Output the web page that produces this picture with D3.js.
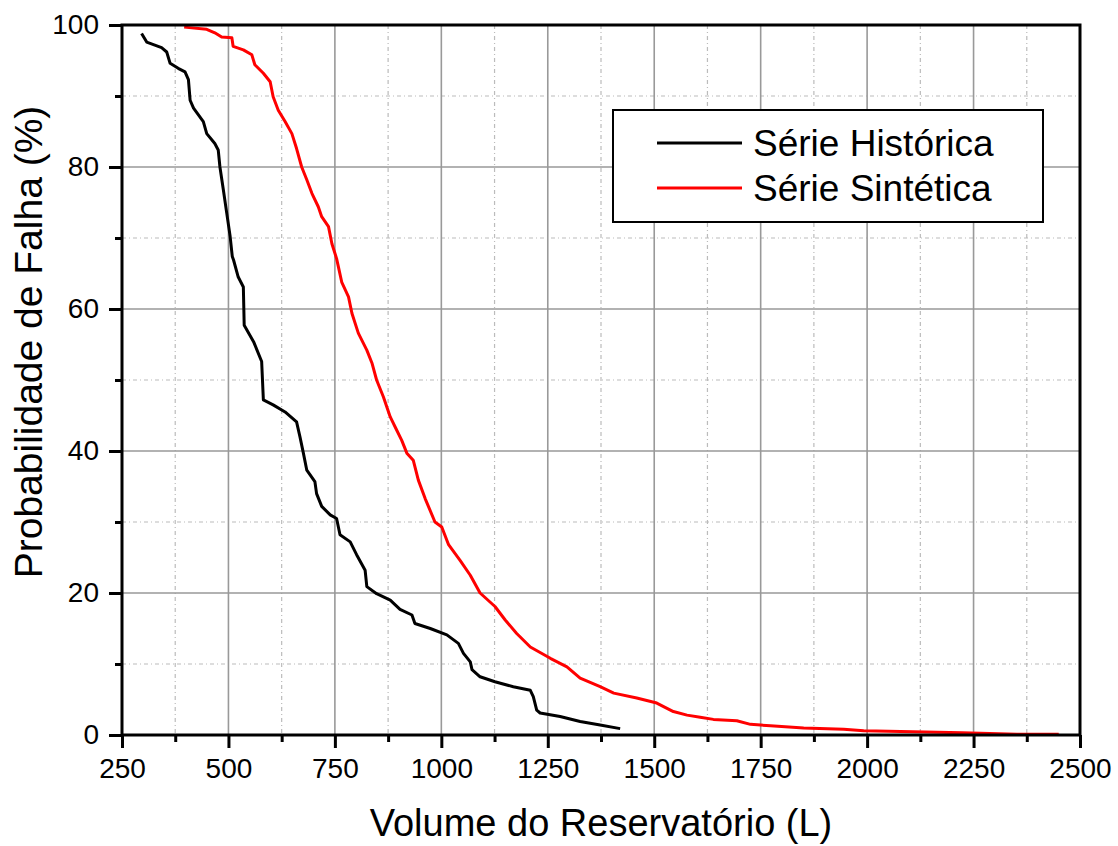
<!DOCTYPE html>
<html>
<head>
<meta charset="utf-8">
<script src="https://cdn.jsdelivr.net/npm/d3@7"></script>
<style>
  html, body { margin: 0; padding: 0; background: #fff; }
  svg { display: block; font-family: Arial, "Liberation Sans", sans-serif; }
</style>
</head>
<body>
<svg id="chart" width="1118" height="846"></svg>
<script>
// ---- Data ----
const historicaVolume = [296,308,343,355,363,382,398,406,410,418,441,449,468,476,480,488,496,504,509,512,523,535,537,559,578,582,605,633,660,668,676,684,703,707,719,739,754,762,786,801,821,825,848,880,903,931,938,974,1013,1040,1052,1068,1072,1091,1126,1169,1209,1216,1224,1232,1279,1326,1373,1420];
const historicaProb   = [98.8,97.6,96.8,96.2,94.6,93.9,93.4,92.3,89.4,88.3,86.4,84.7,83.3,82.4,80.0,76.8,73.5,70.2,67.4,66.9,64.5,63.1,57.7,55.4,52.6,47.2,46.5,45.5,44.1,42.0,39.7,37.3,35.7,34.0,32.2,31.0,30.5,28.2,27.2,25.4,23.2,20.9,19.9,19.0,17.7,16.9,15.7,15.0,14.1,12.9,11.5,10.3,9.2,8.2,7.5,6.8,6.3,5.4,3.5,3.1,2.6,1.9,1.4,0.9];

const sinteticaVolume = [396,449,468,484,508,511,535,555,562,582,598,605,617,633,649,660,672,684,696,711,719,735,743,754,758,766,782,790,805,825,837,848,864,880,893,907,919,934,946,962,985,1001,1017,1044,1068,1091,1126,1150,1177,1209,1256,1295,1326,1373,1405,1459,1506,1522,1545,1577,1608,1639,1694,1726,1773,1851,1945,1992,2223,2352,2450];
const sinteticaProb   = [99.7,99.4,98.9,98.3,98.2,97.0,96.5,95.8,94.4,93.2,92.0,89.9,88.0,86.4,84.7,82.6,80.0,78.2,76.3,74.4,73.0,71.6,69.2,67.1,66.0,63.8,61.7,59.4,56.6,54.2,52.4,50.0,47.6,44.8,43.2,41.5,39.7,38.7,35.9,33.3,30.0,29.3,26.8,24.6,22.5,20.0,18.1,16.2,14.3,12.4,10.8,9.6,8.0,6.8,5.9,5.2,4.5,4.0,3.3,2.8,2.5,2.2,2.0,1.5,1.3,1.0,0.8,0.6,0.3,0.1,0.1];

const xMajorTicks = [250,500,750,1000,1250,1500,1750,2000,2250,2500];
const xMinorTicks = [375,625,875,1125,1375,1625,1875,2125,2375];
const yMajorTicks = [0,20,40,60,80,100];
const yMinorTicks = [10,30,50,70,90];

const seriesNames = ["Série Histórica", "Série Sintética"];
const seriesColors = ["#000000", "#ff0000"];
const xTitle = "Volume do Reservatório (L)";
const yTitle = "Probabilidade de Falha (%)";

// ---- Layout ----
const W = 1118, H = 846;
const L = 122, R = 1080, T = 25, B = 735;

const svg = d3.select("#chart");
const x = d3.scaleLinear().domain([250, 2500]).range([L, R]);
const y = d3.scaleLinear().domain([0, 100]).range([B, T]);

// Grid
const grid = svg.append("g");
grid.selectAll(".vmin").data(xMinorTicks).join("line")
  .attr("x1", d => x(d)).attr("x2", d => x(d)).attr("y1", T).attr("y2", B)
  .attr("stroke", "#bbbbbb").attr("stroke-width", 1.2).attr("stroke-dasharray", "4,3,1,3");
grid.selectAll(".hmin").data(yMinorTicks).join("line")
  .attr("x1", L).attr("x2", R).attr("y1", d => y(d)).attr("y2", d => y(d))
  .attr("stroke", "#bbbbbb").attr("stroke-width", 1.2).attr("stroke-dasharray", "4,3,1,3");
grid.selectAll(".vmaj").data(xMajorTicks.slice(1, -1)).join("line")
  .attr("x1", d => x(d)).attr("x2", d => x(d)).attr("y1", T).attr("y2", B)
  .attr("stroke", "#999999").attr("stroke-width", 1.6);
grid.selectAll(".hmaj").data(yMajorTicks.slice(1, -1)).join("line")
  .attr("x1", L).attr("x2", R).attr("y1", d => y(d)).attr("y2", d => y(d))
  .attr("stroke", "#999999").attr("stroke-width", 1.6);

// Curves
const line = d3.line().x(d => x(d[0])).y(d => y(d[1]));
const histData = d3.zip(historicaVolume, historicaProb);
const sintData = d3.zip(sinteticaVolume, sinteticaProb);
const plot = svg.append("g");
plot.append("path").datum(histData).attr("d", line)
  .attr("fill", "none").attr("stroke", seriesColors[0]).attr("stroke-width", 3).attr("stroke-linejoin", "round");
plot.append("path").datum(sintData).attr("d", line)
  .attr("fill", "none").attr("stroke", seriesColors[1]).attr("stroke-width", 3).attr("stroke-linejoin", "round");

// Axes
const xAxis = d3.axisBottom(x).tickValues(xMajorTicks).tickSize(13).tickPadding(10).tickFormat(d3.format("d"));
const xAxisMinor = d3.axisBottom(x).tickValues(xMinorTicks).tickSize(7).tickFormat("");
const yAxis = d3.axisLeft(y).tickValues(yMajorTicks).tickSize(13).tickPadding(10).tickFormat(d3.format("d"));
const yAxisMinor = d3.axisLeft(y).tickValues(yMinorTicks).tickSize(7).tickFormat("");

function styleAxis(g) {
  g.select(".domain").remove();
  g.selectAll(".tick line").attr("stroke", "#000").attr("stroke-width", 3);
  g.selectAll(".tick text").attr("fill", "#000").attr("font-size", 28)
    .attr("font-family", "Arial, 'Liberation Sans', sans-serif");
}
svg.append("g").attr("transform", `translate(0,${B})`).call(xAxisMinor).call(styleAxis);
svg.append("g").attr("transform", `translate(0,${B})`).call(xAxis).call(styleAxis);
svg.append("g").attr("transform", `translate(${L},0)`).call(yAxisMinor).call(styleAxis);
svg.append("g").attr("transform", `translate(${L},0)`).call(yAxis).call(styleAxis);

// Frame
svg.append("rect").attr("x", L).attr("y", T).attr("width", R - L).attr("height", B - T)
  .attr("fill", "none").attr("stroke", "#000").attr("stroke-width", 3);

// Axis titles
svg.append("text").attr("x", (L + R) / 2).attr("y", 836).attr("text-anchor", "middle")
  .attr("font-size", 38).attr("fill", "#000").text(xTitle);
svg.append("text").attr("transform", "translate(42,342) rotate(-90)").attr("text-anchor", "middle")
  .attr("font-size", 39).attr("fill", "#000").text(yTitle);

// Legend
const lg = svg.append("g");
lg.append("rect").attr("x", 613).attr("y", 110).attr("width", 430).attr("height", 112)
  .attr("fill", "#fff").attr("stroke", "#000").attr("stroke-width", 2);
const legendY = [143, 188];
seriesNames.forEach((name, i) => {
  lg.append("line").attr("x1", 657).attr("x2", 742).attr("y1", legendY[i]).attr("y2", legendY[i])
    .attr("stroke", seriesColors[i]).attr("stroke-width", 3);
  lg.append("text").attr("x", 753).attr("y", legendY[i] + 13).attr("font-size", 37)
    .attr("fill", "#000").text(name);
});
</script>
</body>
</html>
